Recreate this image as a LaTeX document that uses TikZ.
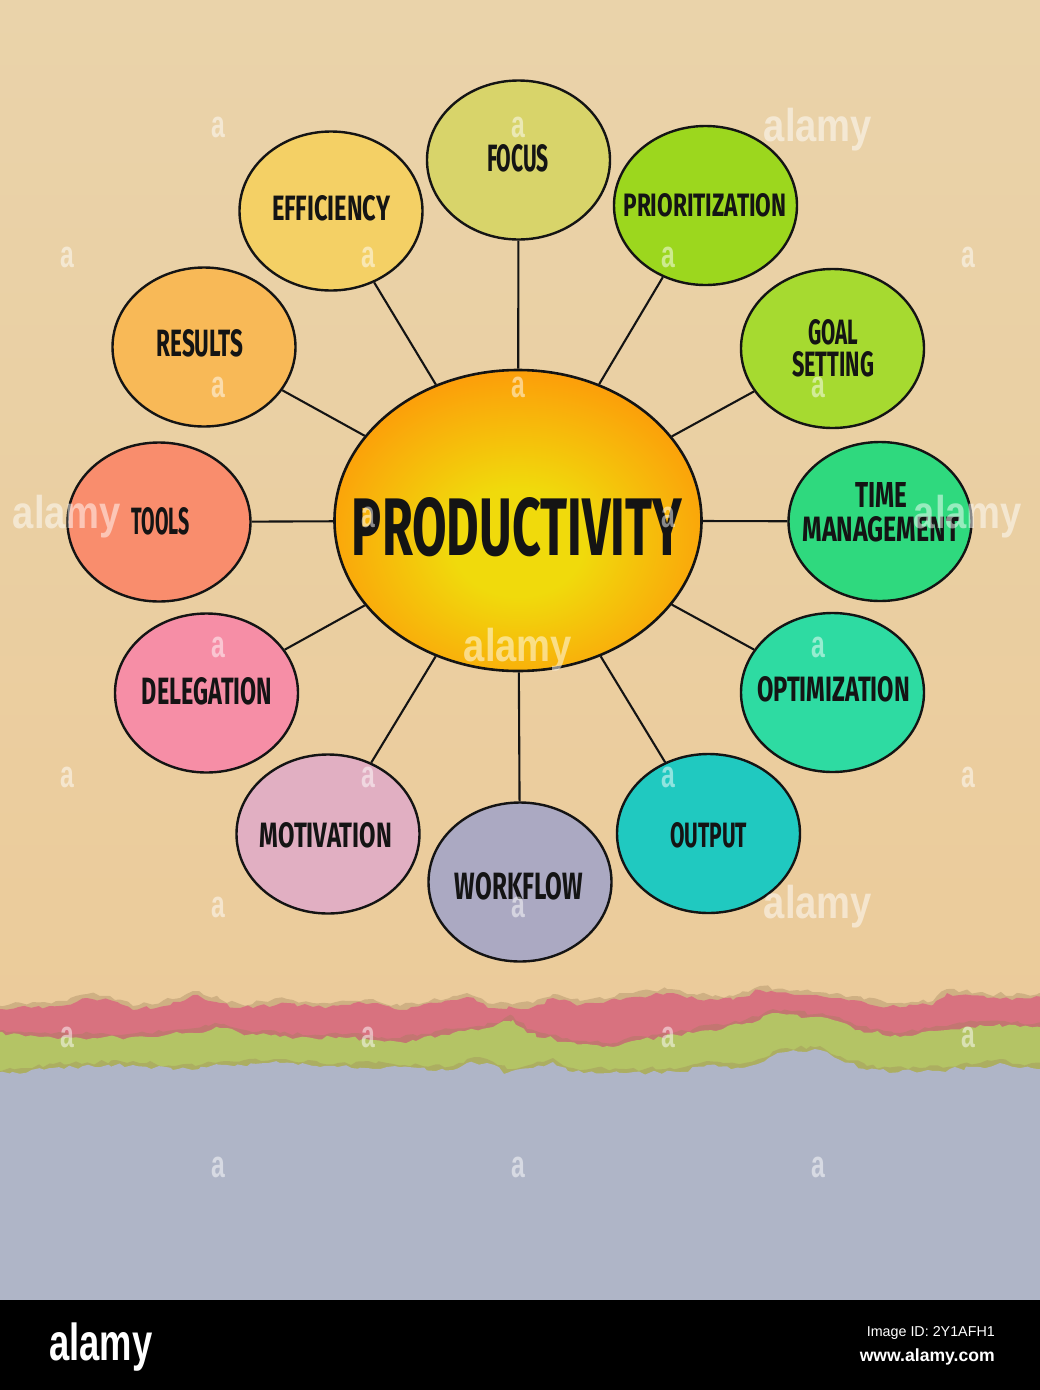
\documentclass[tikz,border=0pt]{standalone}
\usepackage{fontspec}
\usepackage{graphicx}
\setmainfont{Fira Sans}
\newfontfamily\wmfont{Liberation Sans}
\usetikzlibrary{shapes.geometric,decorations.pathmorphing}

\definecolor{paperTop}{HTML}{EAD3AA}
\definecolor{paperBot}{HTML}{EBC996}
\definecolor{cFocus}{HTML}{D8D46A}
\definecolor{cPrio}{HTML}{9CD71E}
\definecolor{cGoal}{HTML}{A6DA30}
\definecolor{cTime}{HTML}{2FD97E}
\definecolor{cOpt}{HTML}{2EDBA2}
\definecolor{cOut}{HTML}{20C9C0}
\definecolor{cWork}{HTML}{ABA9C2}
\definecolor{cMot}{HTML}{E1AFC2}
\definecolor{cDel}{HTML}{F68EA6}
\definecolor{cTools}{HTML}{F98D6D}
\definecolor{cRes}{HTML}{F8B957}
\definecolor{cEff}{HTML}{F4D065}
\definecolor{cYel}{HTML}{F0DA0C}
\definecolor{cOrg}{HTML}{FD9A0A}
\definecolor{cOrg2}{HTML}{FA8000}
\definecolor{cEdge}{HTML}{F06800}
\definecolor{pinkP}{HTML}{D8727F}
\definecolor{greenP}{HTML}{B4C465}
\definecolor{grayP}{HTML}{AFB5C7}
\definecolor{shadowP}{HTML}{9C7E58}
\definecolor{ink}{HTML}{141414}

\pgfdeclareradialshading{prodshade}{\pgfpoint{0bp}{-4bp}}{color(0bp)=(cYel); color(9bp)=(cYel); color(29bp)=(cOrg); color(43bp)=(cOrg2); color(50bp)=(cEdge); color(100bp)=(cEdge)}

\newcommand\lab[3]{\resizebox{#1pt}{#2pt}{#3}}

\tikzset{
  sat/.style={ellipse, draw=ink, line width=2.4pt, minimum width=183pt, minimum height=159pt, inner sep=0pt},
  lbl/.style={inner sep=0pt, text=ink, font=\bfseries, align=center},
  link/.style={draw=ink, line width=2.1pt},
  wma/.style={text=white, text opacity=0.5, inner sep=0pt, font=\wmfont\bfseries\fontsize{38}{38}\selectfont},
  wmbig/.style={text=white, text opacity=0.5, inner sep=0pt, font=\wmfont\bfseries\fontsize{46}{46}\selectfont},
  rough/.style={decorate, decoration={random steps, segment length=6pt, amplitude=2.2pt}},
  pinkedge/.style={insert path={(-10,1010) -- (67,1005) -- (87,998) -- (110,1000) -- (133,1010) -- (180,1002) -- (193,995) -- (220,1003) -- (240,1008) -- (287,1003) -- (313,1007) -- (373,1003) -- (400,1010) -- (453,1000) -- (467,997) -- (493,1008) -- (533,1007) -- (553,998) -- (580,1005) -- (633,997) -- (667,993) -- (687,998) -- (733,1000) -- (760,990) -- (800,995) -- (853,1000) -- (887,1007) -- (933,1005) -- (947,993) -- (987,998) -- (1050,998)}},
  greenedge/.style={insert path={(-10,1033) -- (40,1037) -- (93,1038) -- (147,1037) -- (187,1033) -- (220,1028) -- (240,1033) -- (280,1037) -- (347,1038) -- (400,1042) -- (453,1033) -- (493,1027) -- (513,1020) -- (527,1033) -- (567,1042) -- (613,1047) -- (640,1040) -- (693,1033) -- (747,1023) -- (773,1013) -- (833,1020) -- (860,1030) -- (900,1037) -- (947,1030) -- (980,1025) -- (1020,1027) -- (1050,1027)}},
  grayedge/.style={insert path={(-10,1075) -- (53,1068) -- (133,1065) -- (173,1070) -- (227,1065) -- (280,1063) -- (320,1067) -- (387,1067) -- (453,1070) -- (467,1063) -- (487,1063) -- (507,1073) -- (533,1068) -- (553,1062) -- (573,1072) -- (627,1073) -- (680,1072) -- (707,1065) -- (740,1068) -- (787,1052) -- (820,1050) -- (840,1060) -- (867,1070) -- (920,1072) -- (980,1067) -- (1000,1063) -- (1020,1068) -- (1050,1068)}},
}

\begin{document}
\begin{tikzpicture}[x=1pt,y=-1pt]
\pgfmathsetseed{7}
\useasboundingbox (0,0) rectangle (1040,1390);

% paper background
\fill[top color=paperTop, bottom color=paperBot] (0,0) rectangle (1040,1300);

% torn paper strips
\fill[shadowP, opacity=0.35, shift={(0,-4)}, rough] [pinkedge] -- (1050,1130) -- (-10,1130) -- cycle;
\fill[pinkP, rough] [pinkedge] -- (1050,1130) -- (-10,1130) -- cycle;
\fill[shadowP, opacity=0.35, shift={(0,-4)}, rough] [greenedge] -- (1050,1130) -- (-10,1130) -- cycle;
\fill[greenP, rough] [greenedge] -- (1050,1130) -- (-10,1130) -- cycle;
\fill[shadowP, opacity=0.3, shift={(0,-4)}, rough] [grayedge] -- (1050,1310) -- (-10,1310) -- cycle;
\fill[grayP, rough] [grayedge] -- (1050,1310) -- (-10,1310) -- cycle;

% center
\node[ellipse, draw=ink, line width=2.6pt, minimum width=367pt, minimum height=301pt, inner sep=0pt, shading=prodshade] (prod) at (518,520.5) {};

% satellites
\node[sat, fill=cFocus] (focus) at (518.5,160) {};
\node[sat, fill=cPrio]  (prio)  at (705.5,205.5) {};
\node[sat, fill=cGoal]  (goal)  at (832.5,348.5) {};
\node[sat, fill=cTime]  (time)  at (880,521.5) {};
\node[sat, fill=cOpt]   (opt)   at (832.5,692.5) {};
\node[sat, fill=cOut]   (out)   at (708.5,833.5) {};
\node[sat, fill=cWork]  (work)  at (520,882) {};
\node[sat, fill=cMot]   (mot)   at (328,834) {};
\node[sat, fill=cDel]   (del)   at (206.5,693) {};
\node[sat, fill=cTools] (tools) at (159,522) {};
\node[sat, fill=cRes]   (res)   at (204,347) {};
\node[sat, fill=cEff]   (eff)   at (331,211) {};

% connectors
\foreach \s in {focus,prio,goal,time,opt,out,work,mot,del,tools,res,eff}
  \draw[link] (prod) -- (\s);

% labels
\node[lbl] (prod-t) at (517,527) {\lab{330}{58}{PRODUCTIVITY}};
\node[lbl] (focus-t) at (518,158.5) {\lab{62}{27}{FOCUS}};
\node[lbl] (prio-t) at (705,205) {\lab{163}{23}{PRIORITIZATION}};
\node[lbl, font=\bfseries\fontsize{10}{32}\selectfont] (goal-t) at (833,348.5) {\lab{50}{25}{GOAL}\\\lab{82}{25}{SETTING}};
\node[lbl, font=\bfseries\fontsize{10}{34}\selectfont] (time-t) at (881,512.5) {\lab{52}{25}{TIME}\\\lab{157}{25}{MANAGEMENT}};
\node[lbl] (opt-t) at (833.5,689.5) {\lab{153}{25}{OPTIMIZATION}};
\node[lbl] (out-t) at (708.5,835.5) {\lab{77}{25}{OUTPUT}};
\node[lbl] (work-t) at (519,886.5) {\lab{128}{27}{WORKFLOW}};
\node[lbl] (mot-t) at (326,835.5) {\lab{132}{25}{MOTIVATION}};
\node[lbl] (del-t) at (207,691.5) {\lab{130}{27}{DELEGATION}};
\node[lbl] (tools-t) at (161,521.5) {\lab{58}{27}{TOOLS}};
\node[lbl] (res-t) at (200,343.5) {\lab{87}{27}{RESULTS}};
\node[lbl] (eff-t) at (331,208.5) {\lab{118}{25}{EFFICIENCY}};

% watermarks
\foreach \x/\y [count=\i] in {218/127,518/127,67/257,368/257,668/257,968/257,218/387,518/387,818/387,368/517,668/517,218/647,818/647,67/777,368/777,668/777,968/777,218/907,518/907,67/1037,368/1037,668/1037,968/1037,218/1167,518/1167,818/1167}
  \node[wma] (wa\i) at (\x,\y) {\scalebox{0.65}[1]{a}};
\foreach \x/\y [count=\i] in {818/130,67/517,968/517,518/650,818/907}
  \node[wmbig] (wb\i) at (\x,\y) {\scalebox{0.83}[1]{alamy}};

% bottom banner
\fill[black] (0,1300) rectangle (1040,1390);
\node[text=white, inner sep=0pt, font=\wmfont\bfseries\fontsize{52}{52}\selectfont] (logo) at (101,1347) {\scalebox{0.7}[1]{alamy}};
\node[text=white, inner sep=0pt, anchor=east] (imgid) at (995,1333) {\resizebox{128pt}{!}{\wmfont Image ID: 2Y1AFH1}};
\node[text=white, inner sep=0pt, anchor=east] (www) at (995,1357) {\resizebox{135pt}{!}{\wmfont\bfseries www.alamy.com}};
\end{tikzpicture}
\end{document}
